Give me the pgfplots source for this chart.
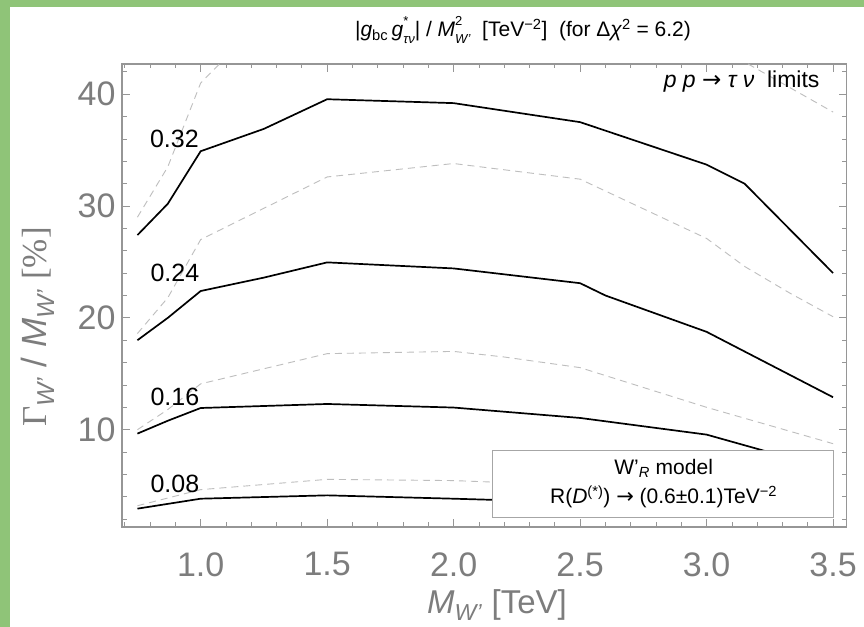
\documentclass[border=0pt]{standalone}
\usepackage{fontspec}
\setmainfont{Liberation Sans}
\newfontfamily\seriffont{Liberation Serif}
\newfontfamily\dejavu{DejaVu Sans}
\usepackage{pgfplots}
\pgfplotsset{compat=1.18}
\definecolor{greenframe}{RGB}{143,196,120}
\definecolor{ticklab}{RGB}{125,125,125}
\definecolor{framegray}{RGB}{150,150,150}
\definecolor{dashgray}{RGB}{190,190,190}
\newcommand\subsup[2]{\rlap{\raisebox{0.55em}{\fontsize{13bp}{13bp}\selectfont #1}}\raisebox{-0.32em}{\fontsize{13bp}{13bp}\selectfont #2}}
\begin{document}
\begin{tikzpicture}
\useasboundingbox (0,0) rectangle (864bp,627bp);
\fill[white] (0,0) rectangle (864bp,627bp);
\fill[greenframe] (0,0) rectangle (10bp,627bp);
\fill[greenframe] (0,620bp) rectangle (864bp,627bp);
\begin{axis}[
  at={(122bp,100bp)}, anchor=south west,
  width=724.5bp, height=463bp, scale only axis,
  xmin=0.689, xmax=3.553, ymin=1.3, ymax=42.7,
  xtick={1,1.5,2,2.5,3,3.5}, xticklabels={1.0,1.5,2.0,2.5,3.0,3.5},
  minor xtick={0.7,0.8,0.9,1.1,1.2,1.3,1.4,1.6,1.7,1.8,1.9,2.1,2.2,2.3,2.4,2.6,2.7,2.8,2.9,3.1,3.2,3.3,3.4},
  ytick={10,20,30,40}, yticklabels={10,20,30,40},
  minor ytick={2,4,6,8,12,14,16,18,22,24,26,28,32,34,36,38,42},
  tick align=inside, major tick length=8bp, minor tick length=4.5bp,
  tick style={framegray, line width=0.8bp},
  axis line style={framegray, line width=1.2bp},
  ticklabel style={font=\fontsize{34bp}{34bp}\selectfont, text=ticklab},
  xticklabel style={yshift=-22bp},
  yticklabel style={xshift=-3bp},
  clip=true,
]
% dashed gray bands
\addplot[dashgray, line width=0.9bp, dash pattern=on 7bp off 5bp] coordinates {
 (0.75,29.0) (0.87,33.5) (1.0,41.0) (1.1,43.3) (1.5,48) (2.0,49) (2.5,48) (3.0,44.8) (3.5,38.4)};
\addplot[dashgray, line width=0.9bp, dash pattern=on 7bp off 5bp] coordinates {
 (0.75,18.6) (0.87,21.8) (1.0,27.0) (1.5,32.6) (2.0,33.8) (2.5,32.4) (3.0,27.1) (3.15,24.6) (3.33,22.2) (3.5,20.1)};
\addplot[dashgray, line width=0.9bp, dash pattern=on 7bp off 5bp] coordinates {
 (0.75,10.0) (0.87,11.8) (1.0,14.1) (1.5,16.8) (2.0,17.0) (2.2,16.5) (2.5,15.55) (3.0,12.0) (3.5,8.75)};
\addplot[dashgray, line width=0.9bp, dash pattern=on 7bp off 5bp] coordinates {
 (0.75,3.2) (1.0,4.64) (1.5,5.56) (2.0,5.45) (2.15,5.32) (2.5,5.0) (3.0,4.3) (3.5,3.5)};
% solid contours
\addplot[black, line width=1.7bp] coordinates {
 (0.75,27.4) (0.87,30.2) (1.0,34.9) (1.25,36.9) (1.5,39.55) (2.0,39.2) (2.5,37.5) (3.0,33.7) (3.15,32.0) (3.5,24.0)};
\addplot[black, line width=1.7bp] coordinates {
 (0.75,18.0) (0.87,20.0) (1.0,22.4) (1.25,23.6) (1.5,24.96) (2.0,24.42) (2.5,23.1) (2.6,22.0) (3.0,18.75) (3.5,12.9)};
\addplot[black, line width=1.7bp] coordinates {
 (0.75,9.65) (0.87,10.8) (1.0,11.94) (1.5,12.3) (2.0,11.98) (2.5,11.05) (3.0,9.56) (3.23,8.1) (3.5,6.2)};
\addplot[black, line width=1.7bp] coordinates {
 (0.75,2.94) (1.0,3.83) (1.5,4.13) (2.0,3.83) (2.5,3.5) (3.0,3.0) (3.5,2.3)};
% contour labels
\node[font=\fontsize{25bp}{25bp}\selectfont] at (axis cs:0.896,35.97) {0.32};
\node[font=\fontsize{25bp}{25bp}\selectfont] at (axis cs:0.898,24.0) {0.24};
\node[font=\fontsize{25bp}{25bp}\selectfont] at (axis cs:0.898,12.93) {0.16};
\node[font=\fontsize{25bp}{25bp}\selectfont] at (axis cs:0.898,5.11) {0.08};
% model box
\draw[framegray!85, fill=white, line width=0.8bp] (axis cs:2.153,2.13) rectangle (axis cs:3.503,8.16);
\node[align=center, font=\fontsize{21bp}{29bp}\selectfont] at (axis cs:2.83,5.16)
 {W'\textsubscript{\textit{R}} model\\R(\textit{D}\textsuperscript{(*)}) {\dejavu →} (0.6±0.1)TeV\textsuperscript{−2}};
\end{axis}
% title
\node[font=\fontsize{21bp}{21bp}\selectfont] at (523bp,597bp)
 {|\textit{g}\textsubscript{bc}\,\textit{g}\subsup{*}{\textit{τν}}| / \textit{M}\subsup{2}{\textit{W'}}\ \ [TeV\textsuperscript{−2}]\ \ (for Δ\textit{χ}\textsuperscript{2} = 6.2)};
\node[anchor=east, font=\fontsize{23bp}{23bp}\selectfont] at (823bp,545bp)
 {\textit{p p} {\dejavu →} \textit{τ ν}\ \ limits};
% axis labels
\node[font=\fontsize{33bp}{33bp}\selectfont, text=ticklab] at (497bp,22bp)
 {\textit{M}\textsubscript{\textit{W'}} [TeV]};
\node[rotate=90, font=\fontsize{35bp}{35bp}\selectfont, text=ticklab] at (38bp,300bp)
 {{\seriffont Γ}\textsubscript{\textit{W'}} / \textit{M}\textsubscript{\textit{W'}} {\seriffont [\%]}};
\end{tikzpicture}
\end{document}
